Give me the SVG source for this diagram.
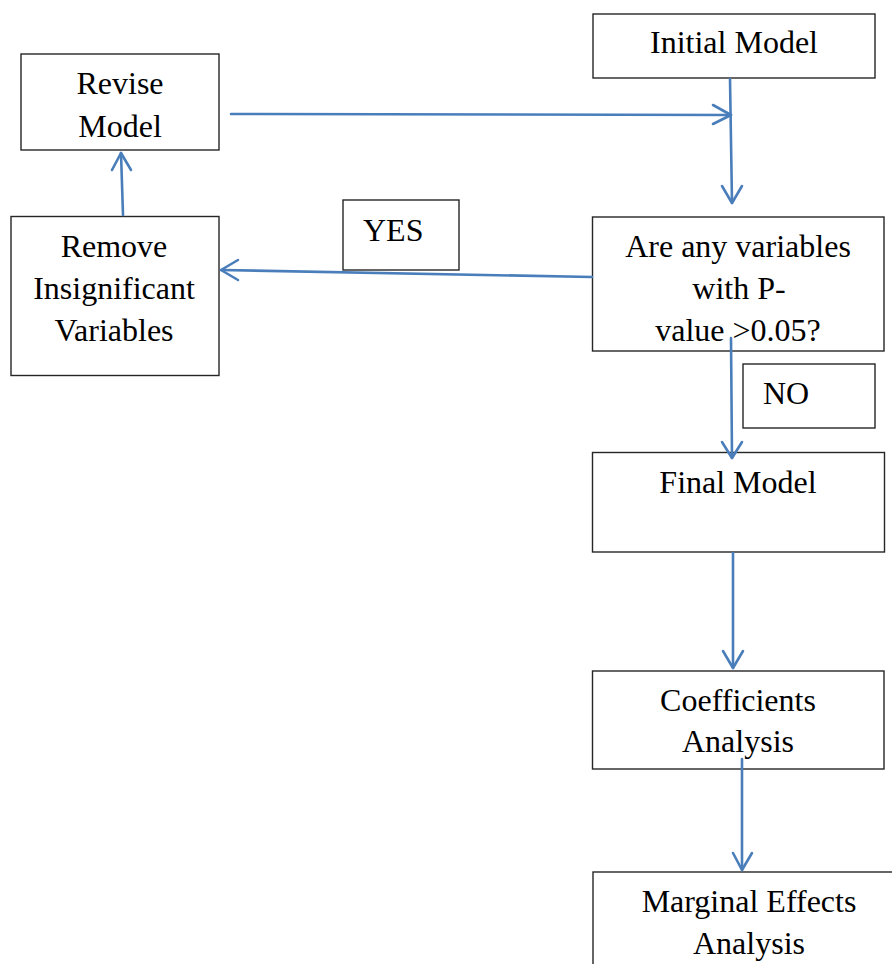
<svg xmlns="http://www.w3.org/2000/svg" width="892" height="964" viewBox="0 0 892 964">
<style>
.box{fill:#ffffff;stroke:#262626;stroke-width:1.4}
.t{font-family:"Liberation Serif","Times New Roman",serif;font-size:32px;fill:#000000;text-anchor:middle}
.tl{font-family:"Liberation Serif","Times New Roman",serif;font-size:32px;fill:#000000}
.c{fill:none;stroke:#4a7ebb;stroke-width:2.6;stroke-linecap:round;stroke-linejoin:round}
</style>
<rect width="892" height="964" fill="#ffffff"/>
<g id="initial-model">
<rect class="box" x="593" y="14" width="282" height="64"/>
<text class="t" x="734" y="53">Initial Model</text>
</g>
<g id="revise-model">
<rect class="box" x="21" y="54" width="198" height="96"/>
<text class="t" x="120" y="94">Revise</text>
<text class="t" x="120" y="137">Model</text>
</g>
<g id="remove-vars">
<rect class="box" x="11" y="216.5" width="208" height="159"/>
<text class="t" x="114" y="257">Remove</text>
<text class="t" x="114" y="299">Insignificant</text>
<text class="t" x="114" y="341">Variables</text>
</g>
<g id="yes-label">
<rect class="box" x="343" y="200" width="116" height="70"/>
<text class="tl" x="363" y="241">YES</text>
</g>
<g id="decision">
<rect class="box" x="592.5" y="217" width="291.5" height="134"/>
<text class="t" x="738" y="257">Are any variables</text>
<text class="t" x="739" y="299">with P-</text>
<text class="t" x="738" y="341">value &gt;0.05?</text>
</g>
<g id="no-label">
<rect class="box" x="743" y="364" width="132" height="64"/>
<text class="tl" x="763" y="404">NO</text>
</g>
<g id="final-model">
<rect class="box" x="592.5" y="452.5" width="292" height="99.5"/>
<text class="t" x="738" y="493">Final Model</text>
</g>
<g id="coefficients">
<rect class="box" x="592.5" y="671" width="291.5" height="98"/>
<text class="t" x="738" y="711">Coefficients</text>
<text class="t" x="738" y="752">Analysis</text>
</g>
<g id="marginal">
<rect class="box" x="593" y="872" width="312" height="110"/>
<text class="t" x="749" y="912">Marginal Effects</text>
<text class="t" x="749" y="954">Analysis</text>
</g>
<g id="connectors">
<path class="c" d="M231 114 L731 115"/>
<path class="c" d="M713 105 L731 115 L713 124"/>
<path class="c" d="M730 79 L732 203"/>
<path class="c" d="M722 186 L732 203 L742 186"/>
<path class="c" d="M592 277 L221 270"/>
<path class="c" d="M238 260 L221 270 L238 280"/>
<path class="c" d="M123 215 L121 153"/>
<path class="c" d="M112 170 L121 153 L131 170"/>
<path class="c" d="M731 338 L732 458"/>
<path class="c" d="M722 442 L732 458 L742 442"/>
<path class="c" d="M733 553 L733 668"/>
<path class="c" d="M723 651 L733 668 L743 651"/>
<path class="c" d="M742 759 L742 870"/>
<path class="c" d="M733 853 L742 870 L752 853"/>
</g>
</svg>
